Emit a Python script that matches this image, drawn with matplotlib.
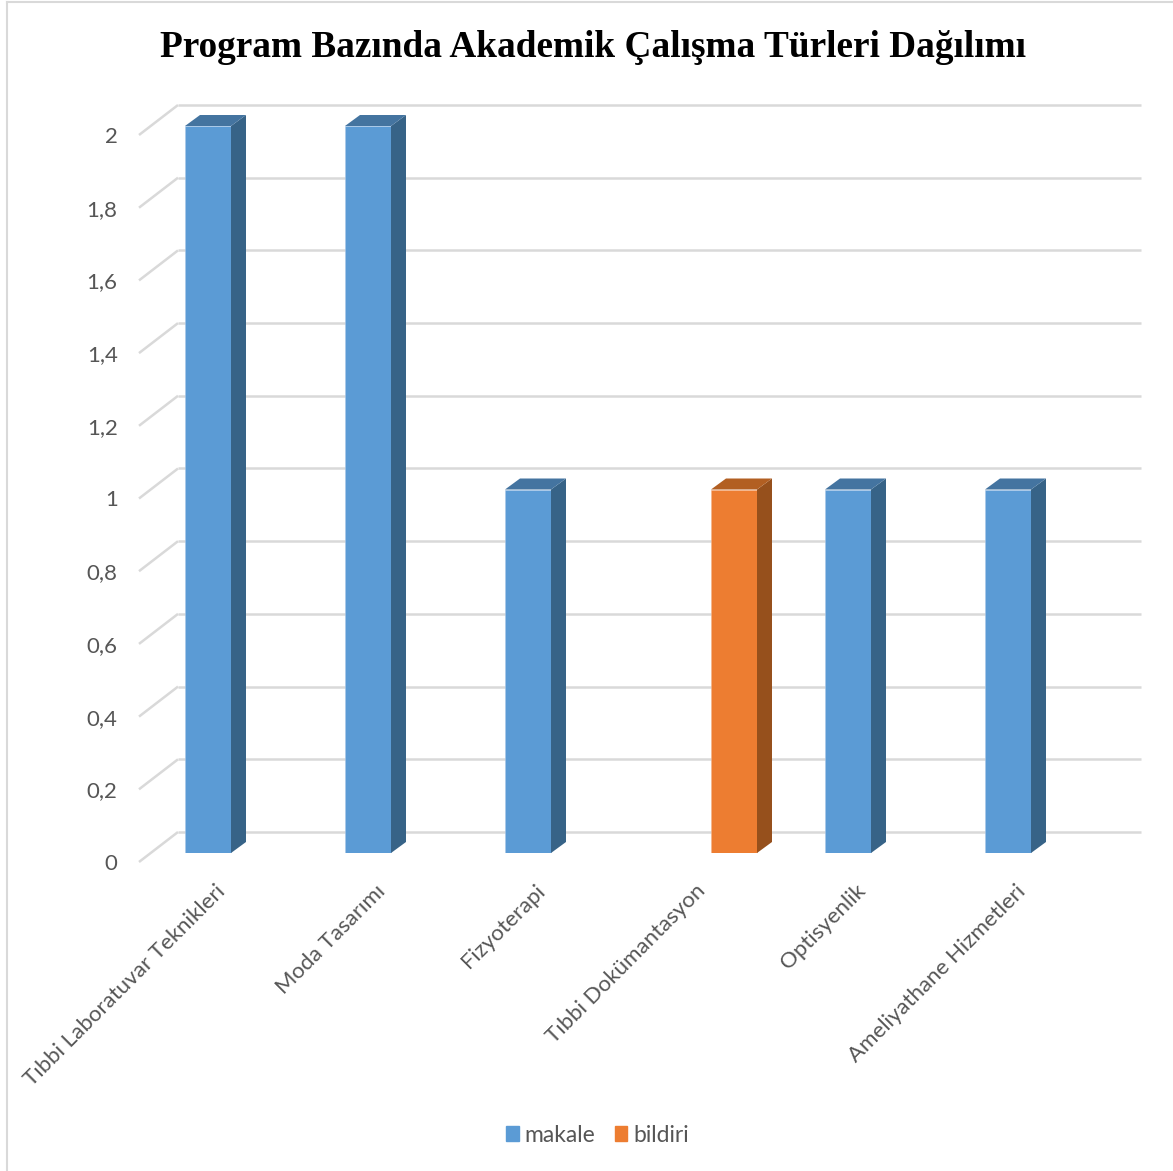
import matplotlib
matplotlib.use("Agg")
import matplotlib.pyplot as plt
from matplotlib.lines import Line2D
from matplotlib.patches import Polygon, Patch
from matplotlib.transforms import ScaledTranslation

categories = ["Tıbbi Laboratuvar Teknikleri", "Moda Tasarımı", "Fizyoterapi",
              "Tıbbi Dokümantasyon", "Optisyenlik", "Ameliyathane Hizmetleri"]
makale = [2, 2, 1, 0, 1, 1]
bildiri = [0, 0, 0, 1, 0, 0]
y_ticks = [0, 0.2, 0.4, 0.6, 0.8, 1, 1.2, 1.4, 1.6, 1.8, 2]
y_labels = ["0", "0,2", "0,4", "0,6", "0,8", "1", "1,2", "1,4", "1,6", "1,8", "2"]

W, H = 1173, 1171
plt.rcParams['font.family'] = ['Lato', 'DejaVu Sans']
fig = plt.figure(figsize=(W / 100, H / 100), dpi=100)

# axes is the front plane of the bars, placed by pixels
ax = fig.add_axes([151 / W, 1 - 853 / H, 960 / W, 727 / H])
ax.set_xlim(-0.5, 5.5)
ax.set_ylim(0, 2)
for s in ax.spines.values():
    s.set_visible(False)
ax.patch.set_alpha(0)

px_x = 1 / 160      # data units per pixel
px_y = 2 / 727
width = 46 * px_x
dx, dy = 15 * px_x, 11 * px_y


def bars_3d(values, offset, face, edge, side, top):
    xs = [i + offset for i in range(len(values))]
    ax.bar(xs, values, width, align='edge', color=face, edgecolor=edge, linewidth=0.4, zorder=5)
    for x, v in zip(xs, values):
        if v == 0:
            continue
        ax.add_patch(Polygon([(x + width, 0), (x + width + dx, dy), (x + width + dx, v + dy), (x + width, v)],
                             color=side, lw=0, zorder=5, clip_on=False))
        ax.add_patch(Polygon([(x, v), (x + dx, v + dy), (x + width + dx, v + dy), (x + width, v)],
                             color=top, lw=0, zorder=5, clip_on=False))


# gridlines: back wall plus the slanted piece on the left
grid = '#D9D9D9'
for v in y_ticks:
    back_y = v + 21 * px_y
    ax.plot([-0.5 + 27 * px_x, 5.5 + 30 * px_x], [back_y, back_y], color=grid, lw=1.8, zorder=1,
            clip_on=False, solid_capstyle='butt')
    ax.plot([-0.5 - 12 * px_x, -0.5 + 27 * px_x], [v - 9 * px_y, back_y], color=grid, lw=1.8, zorder=1,
            clip_on=False, solid_capstyle='butt')

bars_3d(makale, -width, '#5B9BD5', '#A9C8E8', '#376387', '#4474A0')
bars_3d(bildiri, 0, '#ED7D31', '#F4B48A', '#96501C', '#B25F22')

text_col = '#565656'
ax.set_yticks(y_ticks)
ax.set_yticklabels(y_labels, fontsize=16, color=text_col)
ax.tick_params(axis='y', length=0, pad=24)
for lab in ax.get_yticklabels():
    lab.set_transform(lab.get_transform() + ScaledTranslation(0, -9 / 100, fig.dpi_scale_trans))

ax.set_xticks(range(len(categories)))
ax.set_xticklabels(categories, fontsize=16, color=text_col, rotation=45, ha='right', va='top',
                   rotation_mode='anchor')
ax.tick_params(axis='x', length=0, pad=20)
for lab in ax.get_xticklabels():
    lab.set_transform(lab.get_transform() + ScaledTranslation(-16 / 100, 0, fig.dpi_scale_trans))

fig.text(593 / W, 1 - 57 / H, "Program Bazında Akademik Çalışma Türleri Dağılımı", family='Liberation Serif',
         fontweight='bold', fontsize=26.8, ha='center', va='baseline', color='black')

handles = [Patch(color='#5B9BD5', label='makale'), Patch(color='#ED7D31', label='bildiri')]
fig.legend(handles=handles, loc='center', bbox_to_anchor=(597.5 / W, 1 - 1135 / H), ncol=2, frameon=False,
           fontsize=16.5, labelcolor=text_col, handlelength=0.55, handleheight=0.62, handletextpad=0.24,
           columnspacing=0.85)

# chart frame, only top and left show in the crop
fig.add_artist(Line2D([7 / W, 7 / W], [0, 1 - 1.5 / H], transform=fig.transFigure, color=grid, lw=1.5))
fig.add_artist(Line2D([7 / W, 1], [1 - 1.5 / H, 1 - 1.5 / H], transform=fig.transFigure, color=grid, lw=1.5))

fig.savefig("out.png", dpi=100)
